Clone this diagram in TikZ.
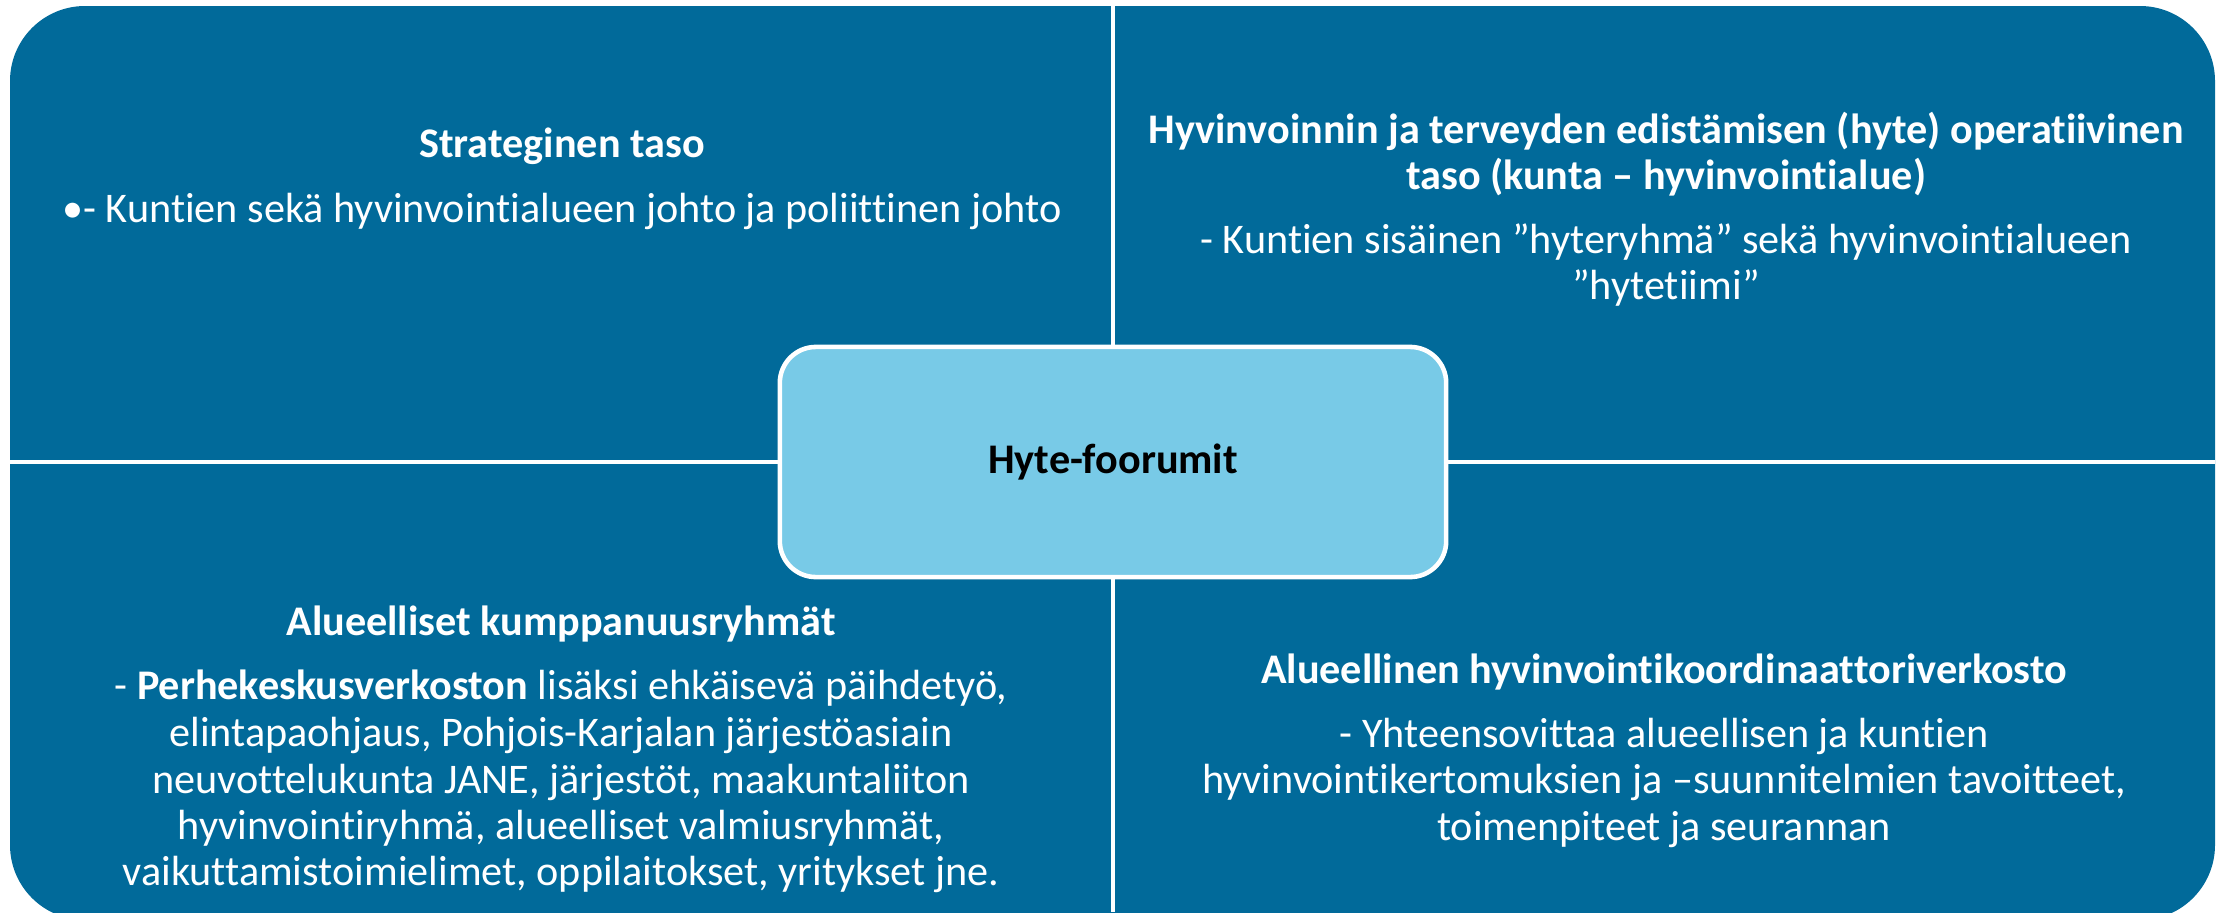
\documentclass[tikz,border=0pt]{standalone}
\usepackage{fontspec}
\setmainfont{Carlito}[Ligatures={NoCommon,NoContextual}]
\definecolor{qblue}{HTML}{016A9A}
\definecolor{cblue}{HTML}{78CAE7}
\begin{document}
\begin{tikzpicture}[x=0.01cm,y=-0.01cm,
  txt/.style={text=white,inner sep=0,anchor=base,font=\fontsize{12}{13.3}\selectfont},
  ttl/.style={text=white,inner sep=0,anchor=base,font=\fontsize{12}{13.3}\selectfont\bfseries},
  divider/.style={white,line width=1.2pt},
  hubbox/.style={draw=white,line width=1.3pt,fill=cblue,rounded corners=0.36cm,
    minimum width=6.66cm,minimum height=2.30cm,inner sep=0,
    font=\fontsize{12}{13.3}\selectfont\bfseries,text=black}]
\useasboundingbox (0,0) rectangle (2221,912);
\begin{scope}
  \clip (0,0) rectangle (2221,912);
  \fill[qblue,rounded corners=0.75cm] (10,6) rectangle (2215,920);
\end{scope}
% dividers
\coordinate (vt) at (1113,6);
\coordinate (vb) at (1113,912);
\coordinate (hl) at (10,462);
\coordinate (hr) at (2215,462);
\draw[divider] (vt) -- (vb);
\draw[divider] (hl) -- (hr);
% top-left
\node[ttl] (tl1) at (562,157) {Strateginen taso};
\node[txt] (tl2) at (562,222) {•- Kuntien sekä hyvinvointialueen johto ja poliittinen johto};
% top-right
\node[ttl] (tr1) at (1666,143) {Hyvinvoinnin ja terveyden edistämisen (hyte) operatiivinen};
\node[ttl] (tr2) at (1666,189) {taso (kunta – hyvinvointialue)};
\node[txt] (tr3) at (1666,253) {- Kuntien sisäinen ”hyteryhmä” sekä hyvinvointialueen};
\node[txt] (tr4) at (1666,299) {”hytetiimi”};
% bottom-left
\node[ttl] (bl1) at (561,635) {Alueelliset kumppanuusryhmät};
\node[txt] (bl2) at (561,699) {- \textbf{Perhekeskusverkoston} lisäksi ehkäisevä päihdetyö,};
\node[txt] (bl3) at (561,746) {elintapaohjaus, Pohjois-Karjalan järjestöasiain};
\node[txt] (bl4) at (561,793) {neuvottelukunta JANE, järjestöt, maakuntaliiton};
\node[txt] (bl5) at (561,839) {hyvinvointiryhmä, alueelliset valmiusryhmät,};
\node[txt] (bl6) at (561,885) {vaikuttamistoimielimet, oppilaitokset, yritykset jne.};
% bottom-right
\node[ttl] (br1) at (1664,683) {Alueellinen hyvinvointikoordinaattoriverkosto};
\node[txt] (br2) at (1664,747) {- Yhteensovittaa alueellisen ja kuntien};
\node[txt] (br3) at (1664,793) {hyvinvointikertomuksien ja –suunnitelmien tavoitteet,};
\node[txt] (br4) at (1664,840) {toimenpiteet ja seurannan};
% centre
\node[hubbox] (hub) at (1113,462) {Hyte-foorumit};
\end{tikzpicture}
\end{document}
